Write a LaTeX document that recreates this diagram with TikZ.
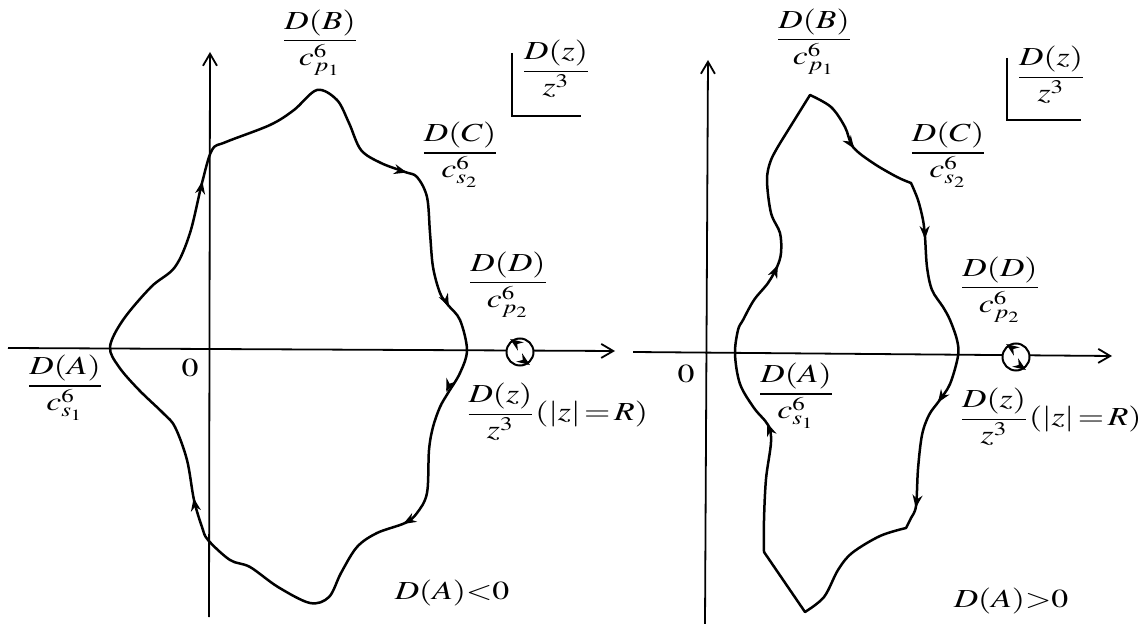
\documentclass[tikz,border=0pt]{standalone}
\usepackage{amsmath}
\usepackage{mathptmx}
\usepackage{graphicx}
\usetikzlibrary{arrows.meta}
\newcommand{\wide}[1]{\scalebox{1.3}[1]{#1}}

\begin{document}
\begin{tikzpicture}[x=0.5pt,y=-0.5pt,>=Stealth,
  ax/.style={line width=0.9pt,-{Straight Barb[length=6pt,width=7pt]}},
  crv/.style={line width=1.25pt,line join=round},
  tip/.style={line width=1pt,-{Stealth[length=6.5pt,width=5pt]}},
  lbl/.style={inner sep=0pt,font=\fontsize{13}{15}\selectfont}]
\useasboundingbox (0,0) rectangle (1145,624);
% left panel: D(A)<0
\coordinate (xl1) at (8,348);  \coordinate (xr1) at (615,351);
\coordinate (yb1) at (209,617); \coordinate (yt1) at (210,52);
\draw[ax] (xl1) -- (xr1);
\draw[ax] (yb1) -- (yt1);
\draw[crv] plot[smooth cycle,tension=0.55] coordinates {
  (110,347) (123,320) (151,287) (175,267) (190,233) (202,183) (212,150)
  (226,142) (270,125) (294,110) (317,90) (337,100) (349,123) (361,150)
  (381,163) (405,172) (417,177) (427,197) (430,233) (433,267) (440,293)
  (448,305) (460,320) (467,350) (460,373) (448,393) (440,407) (433,427)
  (429,450) (427,493) (417,513) (405,523) (377,533) (357,547) (341,573)
  (329,597) (310,603) (278,587) (250,567) (230,560) (208,540) (202,527)
  (194,500) (187,460) (175,427) (163,413) (139,390) (119,367)};
\foreach \p/\a in {{(202,183)}/-80,{(405,172)}/15,{(448,305)}/65,
                   {(447,390)}/112,{(405,523)}/150,{(194,500)}/-100}
  \draw[tip] \p -- ++(\a:2);
\node[circle,draw,fill=white,line width=1pt,minimum size=13.5pt,inner sep=0pt] (rot1) at (520,352) {};
\draw[tip] (rot1.-55) -- ++(35:2);
\draw[tip] (rot1.125) -- ++(215:2);
\node[lbl] (DB1) at (320,43) {\wide{$\dfrac{D(B)}{c^6_{p_1}}$}};
\node[lbl] (DC1) at (460,155) {\wide{$\dfrac{D(C)}{c^6_{s_2}}$}};
\node[lbl] (DD1) at (508,285) {\wide{$\dfrac{D(D)}{c^6_{p_2}}$}};
\node[lbl] (DA1) at (65,388) {\wide{$\dfrac{D(A)}{c^6_{s_1}}$}};
\node[lbl] (o1) at (190,368) {\wide{$0$}};
\node[lbl,anchor=west] (DzR1) at (465,412) {\wide{$\dfrac{D(z)}{z^3}(|z|\,{=}\,R)$}};
\node[lbl] (sg1) at (452,593) {\wide{$D(A){<}0$}};
\node[lbl] (Dz1) at (556,69) {\wide{$\dfrac{D(z)}{z^3}$}};
\coordinate (bt1) at (512,53); \coordinate (bc1) at (512,116); \coordinate (br1) at (581,116);
\draw[line width=0.9pt] (bt1) -- (bc1) -- (br1);
% right panel: D(A)>0
\coordinate (xl2) at (633,352);  \coordinate (xr2) at (1112,356);
\coordinate (yb2) at (705,624); \coordinate (yt2) at (708,60);
\draw[ax] (xl2) -- (xr2);
\draw[ax] (yb2) -- (yt2);
\draw[crv] plot[smooth,tension=0.55] coordinates {
  (810,95) (831,107) (845,127) (853,147) (873,163) (897,177) (911,183)}
  -- plot[smooth,tension=0.55] coordinates {
  (911,183) (918,200) (923,220) (925,237) (927,267) (932,290) (943,307)
  (950,320) (957,340) (958,356) (950,384) (939,401) (929,415) (922,435)
  (918,469) (916,506) (911,518) (906,528)}
  -- plot[smooth,tension=0.55] coordinates {
  (906,528) (880,536) (852,553) (838,570) (824,597) (805,612)}
  -- (764,552)
  -- plot[smooth,tension=0.55] coordinates {
  (764,552) (764,520) (766,479) (771,442) (768,425) (754,408) (740,384)
  (735,354) (738,330) (743,320) (754,300) (768,283) (777,267) (781,253)
  (780,233) (771,213) (767,180) (771,160) (782,140)}
  -- cycle;
\foreach \p/\a in {{(853,147)}/55,{(925,237)}/88,{(939,401)}/124,
                   {(916,506)}/98,{(768,425)}/-110,{(777,267)}/-66}
  \draw[tip] \p -- ++(\a:2);
\node[circle,draw,fill=white,line width=1pt,minimum size=13.5pt,inner sep=0pt] (rot2) at (1016,357) {};
\draw[tip] (rot2.-55) -- ++(35:2);
\draw[tip] (rot2.125) -- ++(215:2);
\node[lbl] (DB2) at (814,42) {\wide{$\dfrac{D(B)}{c^6_{p_1}}$}};
\node[lbl] (DC2) at (948,155) {\wide{$\dfrac{D(C)}{c^6_{s_2}}$}};
\node[lbl] (DD2) at (1000,290) {\wide{$\dfrac{D(D)}{c^6_{p_2}}$}};
\node[lbl] (DA2) at (796,396) {\wide{$\dfrac{D(A)}{c^6_{s_1}}$}};
\node[lbl] (o2) at (686,374) {\wide{$0$}};
\node[lbl,anchor=east] (DzR2) at (1142,417) {\wide{$\dfrac{D(z)}{z^3}(|z|\,{=}\,R)$}};
\node[lbl] (sg2) at (1011,601) {\wide{$D(A){>}0$}};
\node[lbl] (Dz2) at (1051,75) {\wide{$\dfrac{D(z)}{z^3}$}};
\coordinate (bt2) at (1007,58); \coordinate (bc2) at (1007,120); \coordinate (br2) at (1081,120);
\draw[line width=0.9pt] (bt2) -- (bc2) -- (br2);
\end{tikzpicture}
\end{document}
